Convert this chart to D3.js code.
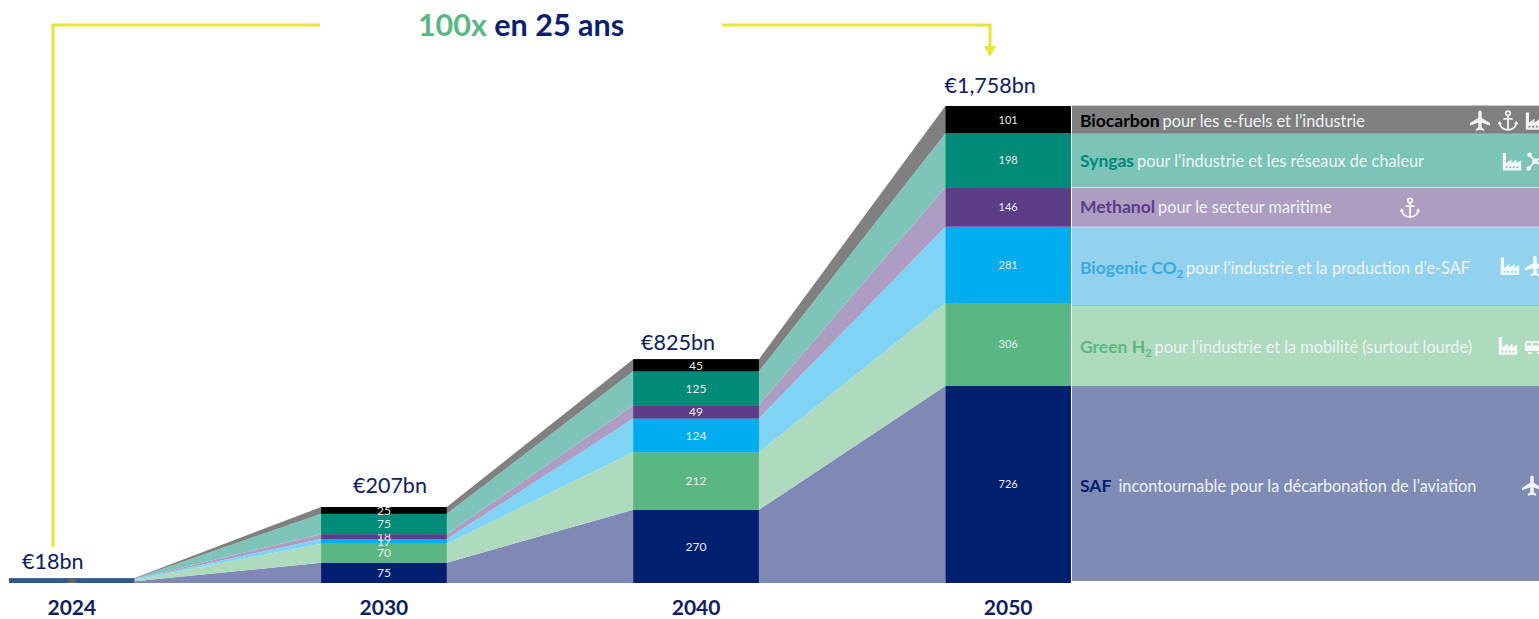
<!DOCTYPE html>
<html>
<head>
<meta charset="utf-8">
<script src="https://cdn.jsdelivr.net/npm/d3@7"></script>
<style>
    html, body { margin: 0; background: #fff; overflow: hidden; }
    text { font-family: Lato, "Open Sans", sans-serif; }
</style>
</head>
<body>
<svg id="chart"></svg>
<script>
const years = ["2024", "2030", "2040", "2050"];
const keys = ["saf", "h2", "co2", "methanol", "syngas", "biocarbon"];

// 2024 split is not labelled, estimated from the thin fan at the bar's edge
const saf = [6, 75, 270, 726];
const h2 = [5, 70, 212, 306];
const co2 = [3, 17, 124, 281];
const methanol = [1, 18, 49, 146];
const syngas = [2, 75, 125, 198];
const biocarbon = [1, 25, 45, 101];

const totalValue2024 = 18;
const totalLabels = ["€18bn", "€207bn", "€825bn", "€1,758bn"];

const legendNames = ["SAF", "Green H", "Biogenic CO", "Methanol", "Syngas", "Biocarbon"];
const legendSubs = ["", "2", "2", "", "", ""];
const legendTexts = [
    "incontournable pour la décarbonation de l’aviation",
    "pour l’industrie et la mobilité (surtout lourde)",
    "pour l’industrie et la production d’e-SAF",
    "pour le secteur maritime",
    "pour l’industrie et les réseaux de chaleur",
    "pour les e-fuels et l’industrie"
];
const legendIcons = [
    [["plane", 1532]],
    [["factory", 1508], ["truck", 1534]],
    [["factory", 1510], ["plane", 1535]],
    [["anchor", 1410]],
    [["factory", 1512], ["network", 1536]],
    [["plane", 1480], ["anchor", 1508], ["factory", 1535]]
];

const barColors = ["#001f6e", "#5ab784", "#00aeef", "#5c3d88", "#008b79", "#000000"];
const areaColors = ["#8089b5", "#aedbbd", "#7fd4f6", "#ad9dc3", "#7fc4b9", "#808080"];
const panelColors = ["#7f8ab5", "#aedabd", "#93d2ef", "#ad9dc1", "#7cc3b8", "#7f7f7f"];
const nameColors = ["#001f6e", "#5ab784", "#3ba8e0", "#5c3d88", "#008b79", "#000000"];
const panelLines = ["#6d9db3", "#6cc3d6", "#fff", "#fff", "#7cc3b8", "#8a8a8a"];

const width = 1539, height = 619;
const navy = "#0e2060", yellow = "#e6e633";

const svg = d3.select("#chart").attr("width", width).attr("height", height);

const x = d3.scaleBand().domain(years).range([9, 1071]).paddingInner(0.5975).paddingOuter(0);
const y = d3.scaleLinear().domain([0, 1758]).range([583, 106]);

const table = years.map((year, i) => ({
    year,
    saf: saf[i], h2: h2[i], co2: co2[i],
    methanol: methanol[i], syngas: syngas[i], biocarbon: biocarbon[i]
}));
const stacked = d3.stack().keys(keys)(table);

// the shaded fans run from each bar's right edge to the next bar's left edge
const area = d3.area()
    .x(d => d.px)
    .y0(d => y(d.low))
    .y1(d => y(d.high));

svg.append("g").selectAll("path")
    .data(stacked)
    .join("path")
    .attr("fill", (s, i) => areaColors[i])
    .attr("d", s => {
        const pts = [];
        s.forEach((d, i) => {
            const year = years[i];
            if (i > 0) pts.push({ px: x(year), low: d[0], high: d[1] });
            if (i < years.length - 1) pts.push({ px: x(year) + x.bandwidth(), low: d[0], high: d[1] });
        });
        return area(pts);
    });

// bars, 2024 is one thin bar of its own
svg.append("rect")
    .attr("x", x("2024"))
    .attr("y", y(totalValue2024))
    .attr("width", x.bandwidth())
    .attr("height", y(0) - y(totalValue2024))
    .attr("fill", "#33598c");
svg.append("rect")
    .attr("x", x("2024") + x.bandwidth() / 2 - 4)
    .attr("y", y(totalValue2024))
    .attr("width", 8)
    .attr("height", y(0) - y(totalValue2024))
    .attr("fill", "#5c6470");

const barLayers = svg.append("g").selectAll("g")
    .data(stacked)
    .join("g")
    .attr("fill", (s, i) => barColors[i]);

barLayers.selectAll("rect")
    .data(s => s.slice(1).map((d, i) => ({ year: years[i + 1], low: d[0], high: d[1] })))
    .join("rect")
    .attr("x", d => x(d.year))
    .attr("y", d => y(d.high))
    .attr("width", x.bandwidth())
    .attr("height", d => y(d.low) - y(d.high));

barLayers.selectAll("text")
    .data(s => s.slice(1).map((d, i) => ({ year: years[i + 1], low: d[0], high: d[1] })))
    .join("text")
    .attr("x", d => x(d.year) + x.bandwidth() / 2)
    .attr("y", d => (y(d.low) + y(d.high)) / 2)
    .attr("dy", "0.36em")
    .attr("text-anchor", "middle")
    .attr("fill", "#ececec")
    .attr("font-size", d => d.year == "2050" ? 11 : 12)
    .text(d => d.high - d.low);

// totals sit off-centre in the source, each one by its own amount
const totalShift = [-19, 6, -18, -18];
const totalGap = [9, 14, 9, 13];
const totalBase = [totalValue2024, 280, 825, 1758];
svg.append("g").selectAll("text")
    .data(totalLabels)
    .join("text")
    .attr("x", (d, i) => x(years[i]) + x.bandwidth() / 2 + totalShift[i])
    .attr("y", (d, i) => y(totalBase[i]) - totalGap[i])
    .attr("text-anchor", "middle")
    .attr("fill", navy)
    .attr("font-size", 21.5)
    .text(d => d);

// year axis
const xAxis = svg.append("g")
    .attr("transform", `translate(0, ${y(0)})`)
    .call(d3.axisBottom(x).tickSize(0).tickPadding(17));
xAxis.select(".domain").remove();
xAxis.selectAll("text")
    .attr("fill", navy)
    .attr("font-size", 21)
    .attr("font-weight", 700)
    .style("font-family", "Lato, sans-serif");

// legend panels follow the 2050 segments, the source has a few of them a little off
const top2050 = stacked.map(s => s[3]);
const panelX = x("2050") + x.bandwidth() + 1;
const panelLow = [-2, 0, 2, 0, 0, 0];
const panelHigh = [0, 2, 0, 0, 0, 0];
const labelShift = [7, 8, 9, 6, 7, 7];
const panels = svg.append("g").selectAll("g")
    .data(top2050)
    .join("g");

panels.append("rect")
    .attr("x", panelX)
    .attr("y", (d, i) => y(d[1]) + panelHigh[i])
    .attr("width", width - panelX)
    .attr("height", (d, i) => y(d[0]) + panelLow[i] - y(d[1]) - panelHigh[i])
    .attr("fill", (d, i) => panelColors[i]);

panels.append("line")
    .attr("x1", panelX)
    .attr("x2", width)
    .attr("y1", (d, i) => y(d[1]) + panelHigh[i])
    .attr("y2", (d, i) => y(d[1]) + panelHigh[i])
    .attr("stroke", (d, i) => panelLines[i])
    .attr("stroke-width", (d, i) => i < 2 ? 1.5 : 1);

const labels = panels.append("text")
    .attr("x", 1080)
    .attr("y", (d, i) => (y(d[0]) + y(d[1])) / 2 + labelShift[i])
    .attr("font-size", 17.5);

labels.append("tspan")
    .attr("font-weight", 700)
    .attr("fill", (d, i) => nameColors[i])
    .text((d, i) => legendNames[i]);
labels.append("tspan")
    .attr("font-weight", 700)
    .attr("font-size", 11)
    .attr("dy", 4)
    .attr("fill", (d, i) => nameColors[i])
    .text((d, i) => legendSubs[i]);
labels.append("tspan")
    .attr("dy", (d, i) => legendSubs[i] ? -4 : 0)
    .attr("dx", (d, i) => i == 0 ? 7 : 3)
    .attr("fill", "#eef3f4")
    .attr("font-size", 16.3)
    .text((d, i) => legendTexts[i]);

// icons
const defs = svg.append("defs");
const addSymbol = (id, draw) => draw(defs.append("symbol").attr("id", id).attr("viewBox", "0 0 24 24"));

addSymbol("plane", s => s.append("path").attr("fill", "#fff").attr("d",
    "M12 1c1.2 0 1.9 1.2 1.9 2.8V9l9.1 5.6v2.6l-9.1-3v5.2l2.6 2v1.8L12 22l-4.5 1.2v-1.8l2.6-2v-5.2l-9.1 3v-2.6L10.100 9V3.800C10.100 2.200 10.800 1 12 1z"));

addSymbol("anchor", s => {
    const g = s.append("g").attr("fill", "none").attr("stroke", "#fff").attr("stroke-width", 2);
    g.append("circle").attr("cx", 12).attr("cy", 4).attr("r", 2.4);
    g.append("path").attr("d", "M12 6.500V22M7 10h10M3 14c0 5 4 8 9 8s9-3 9-8");
    s.append("path").attr("fill", "#fff").attr("d", "M0.500 16l2.500-4 2.500 4zM18.500 16l2.500-4 2.500 4z");
});

addSymbol("factory", s => s.append("path").attr("fill", "#fff").attr("fill-rule", "evenodd").attr("d",
    "M2 22V3h3.500v11l6-4v4l5.500-4v4l5-3v11zM5 17.500v2h2v-2zM9 17.500v2h2v-2zM13 17.500v2h2v-2zM17 17.500v2h2v-2z"));

addSymbol("network", s => {
    s.append("path").attr("stroke", "#fff").attr("stroke-width", 2).attr("d", "M11 12L5 5M11 12L4 20M11 12L20 6M11 12L20 18");
    [[11, 12, 3], [5, 5, 2.500], [4, 20, 2.500], [20, 6, 2.500], [20, 18, 2.500]].forEach(c =>
        s.append("circle").attr("fill", "#fff").attr("cx", c[0]).attr("cy", c[1]).attr("r", c[2]));
});

addSymbol("truck", s => s.append("path").attr("fill", "#fff").attr("fill-rule", "evenodd").attr("d",
    "M3 7h15l4 5v6H2v-6zM5 9l-1 3h5V9zM11 9v3h7l-2-3z M5 19a2.500 2.500 0 1 0 5 0zM15 19a2.500 2.500 0 1 0 5 0z"));

panels.each(function(d, i) {
    const cy = (y(d[0]) + y(d[1])) / 2;
    d3.select(this).selectAll("use")
        .data(legendIcons[i])
        .join("use")
        .attr("href", c => "#" + c[0])
        .attr("x", c => c[1] - 11)
        .attr("y", cy - 11 + 1)
        .attr("width", 22)
        .attr("height", 22)
        .attr("opacity", 0.9);
});

// title and bracket
const title = svg.append("text")
    .attr("x", 521)
    .attr("y", 36)
    .attr("text-anchor", "middle")
    .attr("font-size", 30.5)
    .attr("font-weight", 700);
title.append("tspan").attr("fill", "#5ab784").text("100x");
title.append("tspan").attr("fill", "#0b1f70").text(" en 25 ans");

svg.append("path")
    .attr("fill", "none")
    .attr("stroke", yellow)
    .attr("stroke-width", 3)
    .attr("d", "M53 547V25H320M722 25H990V46");
svg.append("path")
    .attr("fill", yellow)
    .attr("d", "M984 46H996L990 57Z");
</script>
</body>
</html>
